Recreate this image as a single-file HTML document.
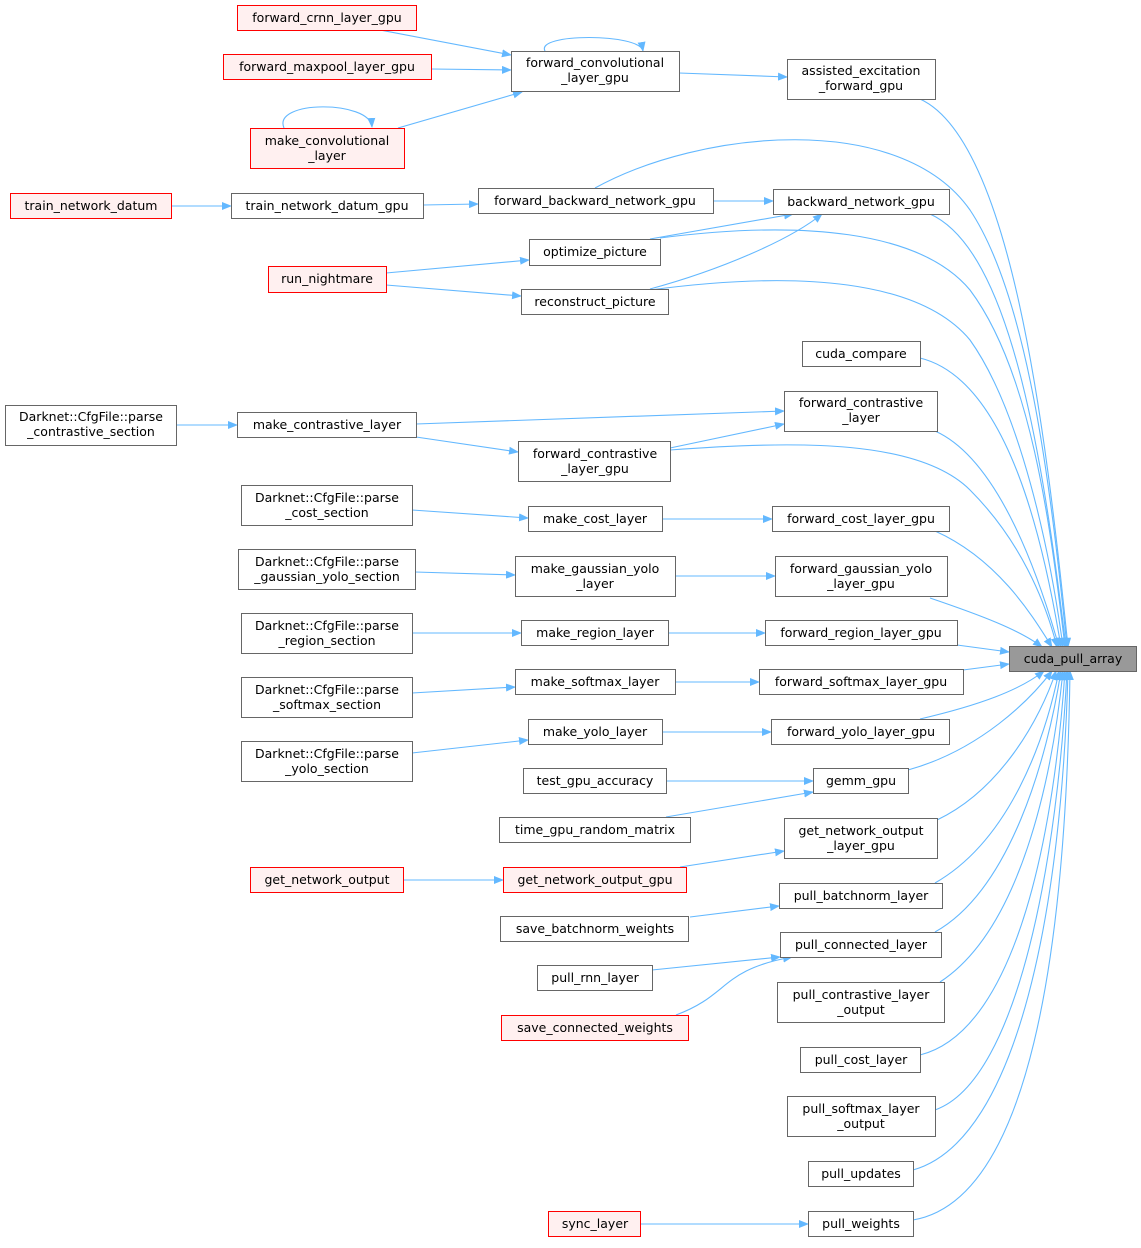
<!DOCTYPE html>
<html><head><meta charset="utf-8"><style>
html,body{margin:0;padding:0;background:#fff;}
svg text{font-family:"DejaVu Sans","Liberation Sans",sans-serif;font-size:12.5px;fill:#000;text-anchor:middle;}
</style></head><body>
<svg width="1141" height="1243" viewBox="0 0 1141 1243" xmlns="http://www.w3.org/2000/svg">
<defs><marker id="a" markerWidth="10" markerHeight="8" refX="9" refY="4" orient="auto" markerUnits="userSpaceOnUse"><path d="M0,0 L10,4 L0,8 Z" fill="#63b8ff"/></marker></defs>
<g fill="none" stroke="#63b8ff" stroke-width="1.1" marker-end="url(#a)">
<path d="M380,30 L511,55"/>
<path d="M431,69 L511,70"/>
<path d="M398,128 L522,92"/>
<path d="M545,51 C535,33 640,33 643,51"/>
<path d="M284,128 C272,100 370,100 372,127"/>
<path d="M679,73 L787,77"/>
<path d="M171,206 L231,206"/>
<path d="M423,205 L478,204"/>
<path d="M713,201 L773,201"/>
<path d="M650,239 L793,214"/>
<path d="M650,289 C720,270 790,240 822,214"/>
<path d="M386,273 L529,260"/>
<path d="M386,285 L521,296"/>
<path d="M176,425 L237,425"/>
<path d="M416,424 L784,411"/>
<path d="M416,437 L518,452"/>
<path d="M670,448 L784,424"/>
<path d="M412,510 L528,518"/>
<path d="M662,519 L772,519"/>
<path d="M415,572 L515,575"/>
<path d="M675,576 L775,576"/>
<path d="M412,633 L521,633"/>
<path d="M668,633 L765,633"/>
<path d="M412,693 L515,687"/>
<path d="M675,682 L759,682"/>
<path d="M412,753 L528,740"/>
<path d="M662,732 L771,732"/>
<path d="M666,781 L813,781"/>
<path d="M666,817 L813,792"/>
<path d="M403,880 L503,880"/>
<path d="M680,867 L784,851"/>
<path d="M690,917 L779,906"/>
<path d="M652,970 L780,957"/>
<path d="M676,1015 C730,995 720,970 792,957"/>
<path d="M640,1224 L808,1224"/>
<!-- to cuda_pull_array -->
<path d="M920,99 C1010,140 1045,420 1068,647"/>
<path d="M595,188 C700,130 900,110 970,210 C1030,300 1052,500 1067,647"/>
<path d="M930,214 C1010,250 1042,450 1066,647"/>
<path d="M660,238 C800,220 920,230 970,290 C1030,370 1050,520 1065,647"/>
<path d="M650,290 C800,270 920,280 970,340 C1020,410 1050,550 1063,647"/>
<path d="M920,358 C1010,380 1045,550 1061,647"/>
<path d="M935,431 C1000,460 1040,580 1059,647"/>
<path d="M670,450 C800,440 920,440 970,490 C1020,540 1045,600 1057,647"/>
<path d="M935,531 C1000,560 1035,620 1052,647"/>
<path d="M930,598 C980,615 1020,630 1042,647"/>
<path d="M957,645 L1009,652"/>
<path d="M963,670 L1009,664"/>
<path d="M920,719 C980,705 1020,690 1044,671"/>
<path d="M908,770 C980,750 1030,700 1052,671"/>
<path d="M937,820 C1000,790 1040,720 1056,671"/>
<path d="M935,883 C1010,840 1045,740 1059,671"/>
<path d="M935,932 C1010,890 1047,760 1061,671"/>
<path d="M940,982 C1020,930 1052,780 1063,671"/>
<path d="M920,1055 C1020,1030 1055,820 1065,671"/>
<path d="M935,1110 C1020,1080 1058,850 1067,671"/>
<path d="M913,1170 C1020,1140 1062,900 1068,671"/>
<path d="M913,1220 C1030,1200 1066,950 1070,671"/>
</g>
<g stroke-width="1">
<!-- red nodes -->
<g fill="#fff0f0" stroke="#ff0000">
<rect x="237.5" y="5.5" width="179" height="25"/>
<rect x="223.5" y="54.5" width="208" height="25"/>
<rect x="250.5" y="128.5" width="154" height="40"/>
<rect x="10.5" y="193.5" width="161" height="25"/>
<rect x="268.5" y="266.5" width="118" height="26"/>
<rect x="250.5" y="867.5" width="153" height="25"/>
<rect x="503.5" y="867.5" width="183" height="25"/>
<rect x="501.5" y="1015.5" width="187" height="25"/>
<rect x="548.5" y="1211.5" width="92" height="25"/>
</g>
<g fill="#fff" stroke="#666">
<rect x="511.5" y="51.5" width="168" height="40"/>
<rect x="787.5" y="59.5" width="148" height="40"/>
<rect x="231.5" y="193.5" width="192" height="25"/>
<rect x="478.5" y="188.5" width="235" height="25"/>
<rect x="773.5" y="189.5" width="176" height="25"/>
<rect x="529.5" y="239.5" width="131" height="26"/>
<rect x="521.5" y="289.5" width="147" height="25"/>
<rect x="802.5" y="341.5" width="118" height="25"/>
<rect x="784.5" y="391.5" width="153" height="40"/>
<rect x="5.5" y="405.5" width="171" height="40"/>
<rect x="237.5" y="412.5" width="179" height="25"/>
<rect x="518.5" y="441.5" width="152" height="40"/>
<rect x="241.5" y="485.5" width="171" height="40"/>
<rect x="528.5" y="506.5" width="134" height="25"/>
<rect x="772.5" y="506.5" width="177" height="25"/>
<rect x="238.5" y="549.5" width="177" height="40"/>
<rect x="515.5" y="556.5" width="160" height="40"/>
<rect x="775.5" y="556.5" width="172" height="40"/>
<rect x="241.5" y="613.5" width="171" height="40"/>
<rect x="521.5" y="620.5" width="147" height="25"/>
<rect x="765.5" y="620.5" width="192" height="25"/>
<rect x="241.5" y="677.5" width="171" height="40"/>
<rect x="515.5" y="669.5" width="160" height="25"/>
<rect x="759.5" y="669.5" width="204" height="25"/>
<rect x="241.5" y="741.5" width="171" height="40"/>
<rect x="528.5" y="719.5" width="134" height="25"/>
<rect x="771.5" y="719.5" width="178" height="25"/>
<rect x="523.5" y="768.5" width="143" height="25"/>
<rect x="813.5" y="768.5" width="95" height="25"/>
<rect x="499.5" y="817.5" width="191" height="25"/>
<rect x="784.5" y="818.5" width="153" height="40"/>
<rect x="779.5" y="883.5" width="163" height="25"/>
<rect x="500.5" y="916.5" width="188" height="25"/>
<rect x="780.5" y="932.5" width="161" height="25"/>
<rect x="537.5" y="965.5" width="115" height="25"/>
<rect x="777.5" y="982.5" width="167" height="40"/>
<rect x="800.5" y="1047.5" width="120" height="25"/>
<rect x="787.5" y="1096.5" width="148" height="40"/>
<rect x="808.5" y="1161.5" width="105" height="25"/>
<rect x="808.5" y="1211.5" width="105" height="25"/>
</g>
<rect x="1009.5" y="646.5" width="127" height="25" fill="#999" stroke="#666"/>
</g>
<g>
<text x="327" y="22">forward_crnn_layer_gpu</text>
<text x="327" y="71">forward_maxpool_layer_gpu</text>
<text x="327" y="145">make_convolutional</text><text x="327" y="160">_layer</text>
<text x="91" y="210">train_network_datum</text>
<text x="327" y="283">run_nightmare</text>
<text x="327" y="884">get_network_output</text>
<text x="595" y="884">get_network_output_gpu</text>
<text x="595" y="1032">save_connected_weights</text>
<text x="595" y="1228">sync_layer</text>
<text x="595" y="67">forward_convolutional</text><text x="595" y="82">_layer_gpu</text>
<text x="861" y="75">assisted_excitation</text><text x="861" y="90">_forward_gpu</text>
<text x="327" y="210">train_network_datum_gpu</text>
<text x="595" y="205">forward_backward_network_gpu</text>
<text x="861" y="206">backward_network_gpu</text>
<text x="595" y="256">optimize_picture</text>
<text x="595" y="306">reconstruct_picture</text>
<text x="861" y="358">cuda_compare</text>
<text x="861" y="407">forward_contrastive</text><text x="861" y="422">_layer</text>
<text x="91" y="421">Darknet::CfgFile::parse</text><text x="91" y="436">_contrastive_section</text>
<text x="327" y="429">make_contrastive_layer</text>
<text x="595" y="458">forward_contrastive</text><text x="595" y="473">_layer_gpu</text>
<text x="327" y="502">Darknet::CfgFile::parse</text><text x="327" y="517">_cost_section</text>
<text x="595" y="523">make_cost_layer</text>
<text x="861" y="523">forward_cost_layer_gpu</text>
<text x="327" y="566">Darknet::CfgFile::parse</text><text x="327" y="581">_gaussian_yolo_section</text>
<text x="595" y="573">make_gaussian_yolo</text><text x="595" y="588">_layer</text>
<text x="861" y="573">forward_gaussian_yolo</text><text x="861" y="588">_layer_gpu</text>
<text x="327" y="630">Darknet::CfgFile::parse</text><text x="327" y="645">_region_section</text>
<text x="595" y="637">make_region_layer</text>
<text x="861" y="637">forward_region_layer_gpu</text>
<text x="1073" y="663">cuda_pull_array</text>
<text x="327" y="694">Darknet::CfgFile::parse</text><text x="327" y="709">_softmax_section</text>
<text x="595" y="686">make_softmax_layer</text>
<text x="861" y="686">forward_softmax_layer_gpu</text>
<text x="327" y="758">Darknet::CfgFile::parse</text><text x="327" y="773">_yolo_section</text>
<text x="595" y="736">make_yolo_layer</text>
<text x="861" y="736">forward_yolo_layer_gpu</text>
<text x="595" y="785">test_gpu_accuracy</text>
<text x="861" y="785">gemm_gpu</text>
<text x="595" y="834">time_gpu_random_matrix</text>
<text x="861" y="835">get_network_output</text><text x="861" y="850">_layer_gpu</text>
<text x="861" y="900">pull_batchnorm_layer</text>
<text x="595" y="933">save_batchnorm_weights</text>
<text x="861" y="949">pull_connected_layer</text>
<text x="595" y="982">pull_rnn_layer</text>
<text x="861" y="999">pull_contrastive_layer</text><text x="861" y="1014">_output</text>
<text x="861" y="1064">pull_cost_layer</text>
<text x="861" y="1113">pull_softmax_layer</text><text x="861" y="1128">_output</text>
<text x="861" y="1178">pull_updates</text>
<text x="861" y="1228">pull_weights</text>
</g>
</svg>
</body></html>
